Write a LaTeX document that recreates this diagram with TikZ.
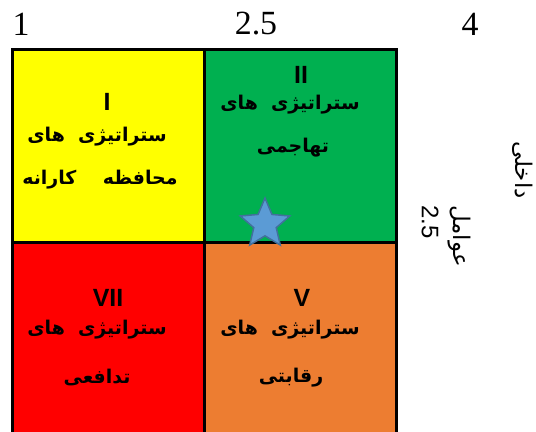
\documentclass[tikz,border=0pt]{standalone}
\usepackage{fontspec}
\setmainfont{Liberation Serif}
\newfontfamily\latinsans{Liberation Sans}
\newfontfamily\arabicfont[Script=Arabic]{DejaVu Sans}
\TeXXeTstate=1
\usetikzlibrary{shapes.geometric}
\definecolor{cyel}{HTML}{FFFF00}
\definecolor{cgrn}{HTML}{00B050}
\definecolor{cred}{HTML}{FF0000}
\definecolor{corg}{HTML}{ED7D31}
\definecolor{cstarf}{HTML}{5B9BD5}
\definecolor{cstard}{HTML}{41719C}
\begin{document}
\begin{tikzpicture}[x=1bp,y=-1bp,
  cell/.style={draw=black,line width=3bp},
  num/.style={font=\latinsans\bfseries\fontsize{25}{25}\selectfont,inner sep=0pt},
  ar/.style={font=\arabicfont\bfseries\fontsize{19}{19}\selectfont,inner sep=0pt},
  axis/.style={font=\fontsize{34}{34}\selectfont,inner sep=0pt},
  side/.style={font=\arabicfont\fontsize{23}{23}\selectfont,inner sep=0pt,rotate=-90}]
\useasboundingbox (0,0) rectangle (536,431);
\begin{scope}
\clip (0,0) rectangle (536,431);
\fill[cyel] (12.5,49.5) rectangle (204,242);
\fill[cgrn] (204,49.5) rectangle (396,242);
\fill[cred] (12.5,242) rectangle (204,445);
\fill[corg] (204,242) rectangle (396,445);
\draw[cell] (12.5,49.5) rectangle (396,445);
\draw[cell] (204,49.5) -- (204,445);
\draw[cell] (12.5,242) -- (396,242);
\end{scope}
% axis labels
\node[axis] (a1) at (21,24) {1};
\node[axis] (a2) at (256,24) {2.5};
\node[axis] (a3) at (470,24) {4};
% cell I
\node[num] (n1) at (107,102) {I};
\node[ar] (t1a) at (97,137) {\beginR ستراتیژی\ \ های\endR};
\node[ar] (t1b) at (100,180) {\beginR محافظه\ \ \ \ کارانه\endR};
% cell II
\node[num] (n2) at (301,75) {II};
\node[ar] (t2a) at (290,105) {\beginR ستراتیژی\ \ های\endR};
\node[ar] (t2b) at (293,148) {\beginR تهاجمی\endR};
% cell VII
\node[num] (n7) at (108,298) {VII};
\node[ar] (t7a) at (97,330) {\beginR ستراتیژی\ \ های\endR};
\node[ar] (t7b) at (97,377) {\beginR تدافعی\endR};
% cell V
\node[num] (n5) at (302,298) {V};
\node[ar] (t5a) at (290,330) {\beginR ستراتیژی\ \ های\endR};
\node[ar] (t5b) at (291,378) {\beginR رقابتی\endR};
% star
\node[star,star points=5,star point ratio=2.2,minimum size=52bp,inner sep=0pt,
  fill=cstarf,draw=cstard,line width=1.5bp] (st) at (265,224) {};
% side labels
\node[side] (s1) at (523,170) {\beginR داخلی\endR};
\node[side] (s2) at (459,236) {\beginR عوامل\endR};
\node[side,font=\latinsans\fontsize{24}{24}\selectfont] (s3) at (430,222) {2.5};
\end{tikzpicture}
\end{document}
